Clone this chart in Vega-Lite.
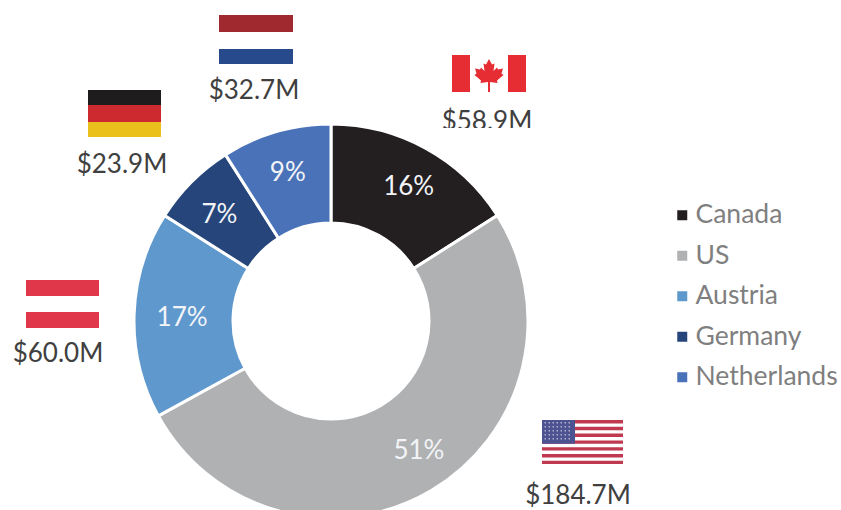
{
"$schema":"https://vega.github.io/schema/vega-lite/v6.json",
"width":841,"height":510,"padding":0,"autosize":{"type":"none"},
"background":"white",
"config":{"view":{"stroke":null},"font":"Lato"},
"datasets":{
"shares":[
{"country":"Canada","amount":58.9,"rank":1,"pct":16,"share":"16%","money":"$58.9M"},
{"country":"US","amount":184.7,"rank":2,"pct":51,"share":"51%","money":"$184.7M"},
{"country":"Austria","amount":60.0,"rank":3,"pct":17,"share":"17%","money":"$60.0M"},
{"country":"Germany","amount":23.9,"rank":4,"pct":7,"share":"7%","money":"$23.9M"},
{"country":"Netherlands","amount":32.7,"rank":5,"pct":9,"share":"9%","money":"$32.7M"}
],
"flags":[
{"amount":32.7,"part":"nl-red"},{"amount":32.7,"part":"nl-blue"},
{"amount":58.9,"part":"ca-bars"},{"amount":58.9,"part":"ca-leaf"},{"amount":58.9,"part":"ca-mask"},
{"amount":23.9,"part":"de-black"},{"amount":23.9,"part":"de-red"},{"amount":23.9,"part":"de-gold"},
{"amount":60.0,"part":"at-red"},
{"amount":184.7,"part":"us-stripes"},{"amount":184.7,"part":"us-canton"},{"amount":184.7,"part":"us-stars"}
]},
"layer":[
{"data":{"name":"shares"},
 "mark":{"type":"text","fontSize":26,"color":"#404040","baseline":"alphabetic","align":"center"},
 "encoding":{
  "x":{"field":"amount","type":"quantitative","axis":null,"scale":{"domain":[23.9,32.7,58.9,60,184.7],"range":[122,254,487,58,578],"zero":false,"nice":false}},
  "y":{"field":"amount","type":"quantitative","axis":null,"scale":{"domain":[23.9,32.7,58.9,60,184.7],"range":[173,99,130,362,504],"zero":false,"nice":false}},
  "text":{"field":"money"}}},
{"data":{"name":"flags"},
 "mark":{"type":"point","filled":true,"opacity":1,"size":4,"strokeWidth":0},
 "encoding":{
  "x":{"field":"amount","type":"quantitative","axis":null,"scale":{"domain":[23.9,32.7,58.9,60,184.7],"range":[124.5,256,489,62.5,582.5],"zero":false,"nice":false}},
  "y":{"field":"amount","type":"quantitative","axis":null,"scale":{"domain":[23.9,32.7,58.9,60,184.7],"range":[113.5,39.5,73.5,304,442],"zero":false,"nice":false}},
  "color":{"field":"part","type":"nominal","legend":null,"scale":{
   "domain":["nl-red","nl-blue","ca-bars","ca-leaf","ca-mask","de-black","de-red","de-gold","at-red","us-stripes","us-canton","us-stars"],
   "range":["#a0282f","#264a8c","#e52d33","#e52d33","#ffffff","#1f1c1d","#cc2a2e","#eac01c","#e0384a","#bf3a50","#4d5290","#aeb1d0"]}},
  "shape":{"field":"part","type":"nominal","legend":null,"scale":{
   "domain":["nl-red","nl-blue","ca-bars","ca-leaf","ca-mask","de-black","de-red","de-gold","at-red","us-stripes","us-canton","us-stars"],
   "range":[
    "M-37-24.5H37V-7.5H-37Z",
    "M-37 9.5H37V24.5H-37Z",
    "M-37-18.5H-19V18.5H-37ZM19-18.5H37V18.5H19Z",
    "M0-14.5L3-9L5.5-10L4.5-2.5L8-6L9-4L14-5L12.5 0L14.5 1.5L8 7L8.5 9.5L1 8.5V18.5H-1V8.5L-8.5 9.5L-8 7L-14.5 1.5L-12.5 0L-14-5L-9-4L-8-6L-4.5-2.5L-5.5-10L-3-9Z",
    "M-50 54.5H50V62H-50Z",
    "M-36.5-23.5H36.5V-8.5H-36.5Z",
    "M-36.5-8.5H36.5V8.5H-36.5Z",
    "M-36.5 8.5H36.5V23.5H-36.5Z",
    "M-36.5-24H36.5V-8H-36.5ZM-36.5 8H36.5V24H-36.5Z",
    "M-40.5-22H40.5V-18.6H-40.5ZM-40.5-15.2H40.5V-11.8H-40.5ZM-40.5-8.4H40.5V-5H-40.5ZM-40.5-1.6H40.5V1.8H-40.5ZM-40.5 5.2H40.5V8.6H-40.5ZM-40.5 12H40.5V15.4H-40.5ZM-40.5 18.8H40.5V22H-40.5Z",
    "M-40.5-22H-7.5V1.8H-40.5Z",
    "M-38-20h1.5v1.5h-1.5zM-34-20h1.5v1.5h-1.5zM-30-20h1.5v1.5h-1.5zM-26-20h1.5v1.5h-1.5zM-22-20h1.5v1.5h-1.5zM-18-20h1.5v1.5h-1.5zM-14-20h1.5v1.5h-1.5zM-38-16h1.5v1.5h-1.5zM-34-16h1.5v1.5h-1.5zM-30-16h1.5v1.5h-1.5zM-26-16h1.5v1.5h-1.5zM-22-16h1.5v1.5h-1.5zM-18-16h1.5v1.5h-1.5zM-14-16h1.5v1.5h-1.5zM-38-12h1.5v1.5h-1.5zM-34-12h1.5v1.5h-1.5zM-30-12h1.5v1.5h-1.5zM-26-12h1.5v1.5h-1.5zM-22-12h1.5v1.5h-1.5zM-18-12h1.5v1.5h-1.5zM-14-12h1.5v1.5h-1.5zM-38-8h1.5v1.5h-1.5zM-34-8h1.5v1.5h-1.5zM-30-8h1.5v1.5h-1.5zM-26-8h1.5v1.5h-1.5zM-22-8h1.5v1.5h-1.5zM-18-8h1.5v1.5h-1.5zM-14-8h1.5v1.5h-1.5zM-38-4h1.5v1.5h-1.5zM-34-4h1.5v1.5h-1.5zM-30-4h1.5v1.5h-1.5zM-26-4h1.5v1.5h-1.5zM-22-4h1.5v1.5h-1.5zM-18-4h1.5v1.5h-1.5zM-14-4h1.5v1.5h-1.5z"
   ]}}}},
{"data":{"name":"shares"},
 "mark":{"type":"arc","outerRadius":197,"innerRadius":98,"stroke":"#ffffff","strokeWidth":3},
 "encoding":{
  "x":{"value":331},"y":{"value":321},
  "theta":{"field":"pct","type":"quantitative","stack":true},
  "order":{"field":"rank","type":"quantitative"},
  "color":{"field":"country","type":"nominal","sort":null,
   "scale":{"domain":["Canada","US","Austria","Germany","Netherlands"],"range":["#231f20","#b0b1b3","#5f98cd","#26457a","#4a72b8"]},
   "legend":{"title":null,"orient":"none","legendX":669,"legendY":202,"padding":0,"symbolType":"square","symbolSize":100,"symbolStrokeWidth":0,"labelFontSize":26.5,"labelFont":"Lato","labelColor":"#7f7f7f","rowPadding":13.5,"labelOffset":0,"labelLimit":200}}}},
{"data":{"name":"shares"},
 "mark":{"type":"text","radius":155,"fontSize":26,"color":"#f2f4f7","align":"center","baseline":"middle","dx":{"expr":"datum.country==='US'?9:datum.country==='Austria'?6:datum.country==='Canada'?3:datum.country==='Germany'?-2:0"},"dy":{"expr":"datum.country==='US'?-3:datum.country==='Germany'?4:datum.country==='Netherlands'?1:2"}},
 "encoding":{
  "x":{"value":331},"y":{"value":321},
  "theta":{"field":"pct","type":"quantitative","stack":true},
  "order":{"field":"rank","type":"quantitative"},
  "text":{"field":"share"}}}
],
"resolve":{"scale":{"x":"independent","y":"independent","color":"independent","shape":"independent"}}
}
